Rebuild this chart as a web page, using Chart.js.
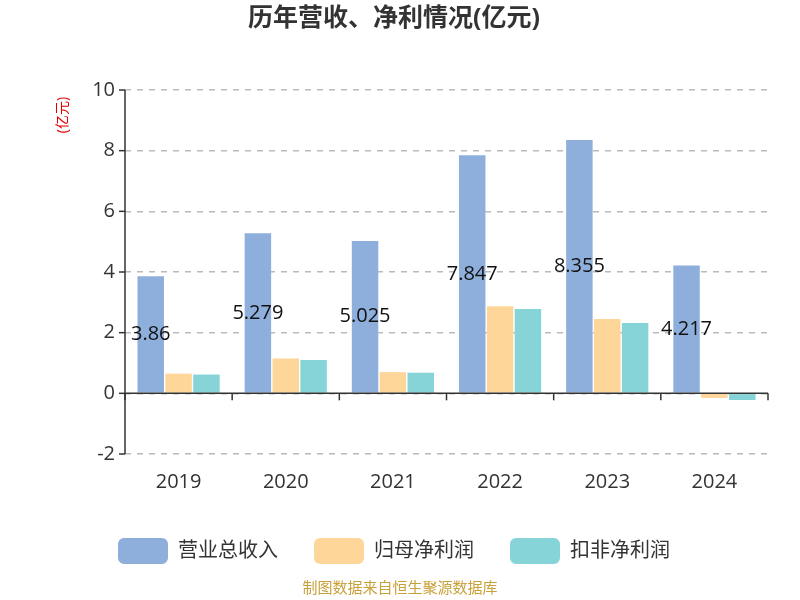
<!DOCTYPE html>
<html><head><meta charset="utf-8">
<script src="https://cdn.jsdelivr.net/npm/chart.js@4/dist/chart.umd.min.js"></script>
<style>body{margin:0;background:#fff}#w{width:800px;height:600px}</style>
</head><body><div id="w"><canvas id="c" width="800" height="600"></canvas></div>
<script>
const categories=['2019','2020','2021','2022','2023','2024'];
const revenue=[3.86,5.279,5.025,7.847,8.355,4.217];
const netProfit=[0.65,1.15,0.7,2.87,2.45,-0.15];
const deductedProfit=[0.62,1.1,0.68,2.78,2.32,-0.22];
const revenueLabels=['3.86','5.279','5.025','7.847','8.355','4.217'];
const F='"Open Sans","Noto Sans CJK SC",sans-serif';
const deco={id:'deco',afterDraw(ch){
 const c=ch.ctx,x=ch.scales.x,y=ch.scales.y,a=ch.chartArea;
 c.save();
 const z=y.getPixelForValue(0);
 c.strokeStyle='#333';c.lineWidth=1.5;
 c.beginPath();c.moveTo(a.left,z);c.lineTo(a.right,z);c.stroke();
 const n=categories.length,w=(a.right-a.left)/n;
 for(let i=0;i<=n;i++){const px=a.left+i*w;c.beginPath();c.moveTo(px,z);c.lineTo(px,z+7);c.stroke();}
 c.beginPath();c.moveTo(a.left,a.top);c.lineTo(a.left,a.bottom);c.stroke();
 y.ticks.forEach(t=>{const py=y.getPixelForValue(t.value);c.beginPath();c.moveTo(a.left-6,py);c.lineTo(a.left,py);c.stroke();});
 const m=ch.getDatasetMeta(0);
 c.fillStyle='#111';c.font='20px '+F;c.textAlign='center';c.textBaseline='middle';
 m.data.forEach((b,i)=>{c.fillText(revenueLabels[i],b.x,(b.y+b.base)/2);});
 c.fillStyle='#e00000';c.font='14px '+F;c.translate(63,115);c.rotate(-Math.PI/2);c.fillText('(亿元)',0,0);
 c.restore();
 c.save();c.fillStyle='#c9a13a';c.font='15px '+F;c.textAlign='center';c.textBaseline='middle';c.fillText('制图数据来自恒生聚源数据库',400,589);c.restore();
}};
new Chart(document.getElementById('c'),{type:'bar',
data:{labels:categories,datasets:[
{label:'营业总收入',data:revenue,backgroundColor:'#8eaedb'},
{label:'归母净利润',data:netProfit,backgroundColor:'#ffd699'},
{label:'扣非净利润',data:deductedProfit,backgroundColor:'#86d4d8'}]},
options:{responsive:false,animation:false,devicePixelRatio:1,
 layout:{padding:{left:20,right:32,top:0,bottom:26}},
 datasets:{bar:{categoryPercentage:0.78,barPercentage:0.95}},
 plugins:{title:{display:true,text:'历年营收、净利情况(亿元)',font:{family:F,size:25,weight:'bold'},color:'#333',padding:{top:4,bottom:56}},
  legend:{position:'bottom',labels:{font:{family:F,size:20},color:'#333',boxWidth:50,boxHeight:26,useBorderRadius:true,borderRadius:6,padding:36}},
  tooltip:{enabled:false}},
 scales:{x:{grid:{display:false},border:{display:false},ticks:{font:{family:F,size:20},color:'#333',padding:8}},
  y:{min:-2,max:10,ticks:{stepSize:2,font:{family:F,size:20},color:'#333',padding:10},
   afterFit(s){s.width=105;},
   border:{display:false,dash:[6,6]},grid:{color:'#bbb',drawTicks:false,lineWidth:1.5}
  }}},
plugins:[deco]});
</script></body></html>
